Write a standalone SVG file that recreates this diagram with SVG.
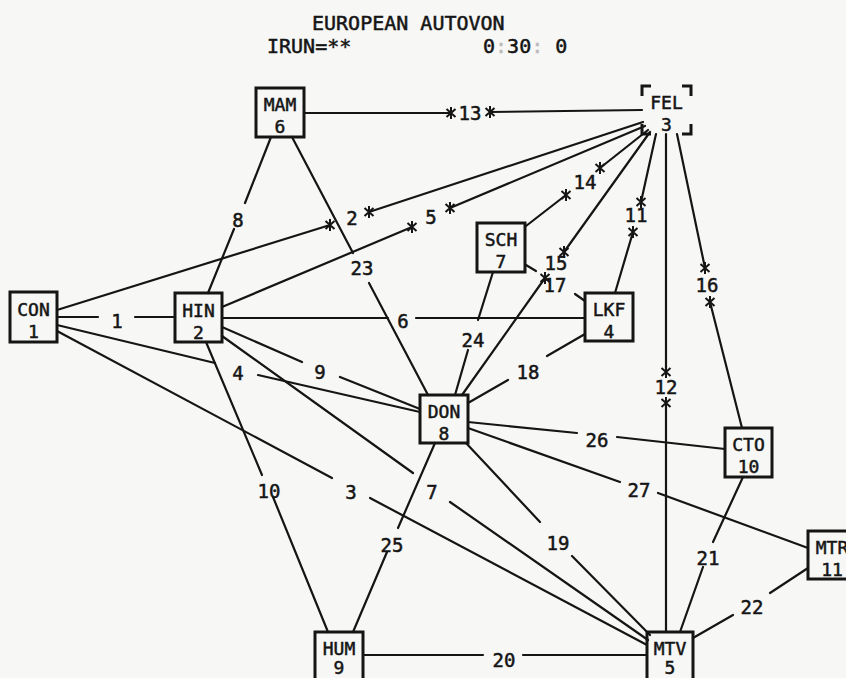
<svg xmlns="http://www.w3.org/2000/svg" width="846" height="678" viewBox="0 0 846 678">
<defs>
<style>
text{font-family:"DejaVu Sans Mono","Liberation Mono",monospace;font-size:19px;fill:#151515;stroke:#151515;stroke-width:0.5}
.n text{font-size:18px}
.n rect,.n path{fill:none;stroke:#151515;stroke-width:3}
.n text,.lb text{text-anchor:middle}
.c path{fill:none;stroke:#151515;stroke-width:2.2;stroke-linecap:round}
.st{fill:none;stroke:#151515;stroke-width:2}
.ti{font-size:20px}
.dim{fill:#bbb;stroke:#bbb}
</style>
<g id="star" class="st"><path d="M0,-6V6M-4.5,-4L4.5,4M4.5,-4L-4.5,4"/></g>
</defs>
<rect width="846" height="678" fill="#f7f7f5"/>
<g id="title" class="ti">
<text class="ti" x="312" y="30">EUROPEAN AUTOVON</text>
<text class="ti" x="267" y="53">IRUN=**</text>
<text class="ti" x="483" y="53">0<tspan class="dim">:</tspan>30<tspan class="dim">:</tspan> 0</text>
</g>
<g id="connectors" class="c">
<path d="M57,317H98M135,317H175"/>
<path d="M57,310L330,225M369,212L643,122"/>
<path d="M57,331L332,478M370,498L647,645"/>
<path d="M57,325L215,363M258,375L420,412"/>
<path d="M222,307L412,227M450,208L645,126"/>
<path d="M222,318H388M416,318H585"/>
<path d="M222,336L413,473M450,502L648,640"/>
<path d="M208,293L234,229M245,203L271,137"/>
<path d="M222,327L302,362M340,377L420,409"/>
<path d="M206,342L262,475M273,497L328,632"/>
<path d="M656,134L641,202M633,232L615,293"/>
<path d="M666,134V372M666,403V632"/>
<path d="M304,113H451M490,112L642,110"/>
<path d="M526,226L566,195M600,168L648,130"/>
<path d="M462,395L545,278M564,252L650,132"/>
<path d="M677,134L705,268M710,302L742,428"/>
<path d="M526,265L536,271M575,294L585,301"/>
<path d="M468,403L508,380M547,356L585,334"/>
<path d="M466,443L540,522M572,556L650,635"/>
<path d="M363,655H483M523,655H647"/>
<path d="M743,477L713,542M703,567L680,632"/>
<path d="M808,568L770,593M733,615L693,638"/>
<path d="M292,137L353,253M369,283L428,395"/>
<path d="M493,272L478,320M468,350L455,395"/>
<path d="M435,443L398,528M387,552L353,632"/>
<path d="M468,422L577,433M617,437L725,449"/>
<path d="M468,428L620,482M658,493L808,548"/>
<use href="#star" x="330" y="225"/><use href="#star" x="369" y="212"/>
<use href="#star" x="412" y="227"/><use href="#star" x="450" y="208"/>
<use href="#star" x="451" y="113"/><use href="#star" x="490" y="112"/>
<use href="#star" x="566" y="195"/><use href="#star" x="600" y="168"/>
<use href="#star" x="545" y="278"/><use href="#star" x="564" y="252"/>
<use href="#star" x="641" y="202"/><use href="#star" x="633" y="232"/>
<use href="#star" x="705" y="268"/><use href="#star" x="710" y="302"/>
<use href="#star" x="666" y="372"/><use href="#star" x="666" y="403"/>
</g>
<g id="labels" class="lb">
<text x="117" y="328">1</text>
<text x="352" y="225">2</text>
<text x="351" y="499">3</text>
<text x="238" y="380">4</text>
<text x="431" y="224">5</text>
<text x="403" y="328">6</text>
<text x="432" y="499">7</text>
<text x="238" y="227">8</text>
<text x="320" y="379">9</text>
<text x="269" y="498">10</text>
<text x="636" y="222">11</text>
<text x="666" y="394">12</text>
<text x="470" y="120">13</text>
<text x="585" y="189">14</text>
<text x="556" y="270">15</text>
<text x="555" y="292">17</text>
<text x="707" y="292">16</text>
<text x="528" y="379">18</text>
<text x="558" y="550">19</text>
<text x="504" y="667">20</text>
<text x="708" y="565">21</text>
<text x="752" y="614">22</text>
<text x="362" y="275">23</text>
<text x="473" y="347">24</text>
<text x="392" y="552">25</text>
<text x="597" y="447">26</text>
<text x="639" y="497">27</text>
</g>
<g id="CON" class="n"><rect x="10" y="292" width="47" height="50"/><text x="33.5" y="316">CON</text><text x="33.5" y="338">1</text></g>
<g id="HIN" class="n"><rect x="175" y="293" width="47" height="49"/><text x="198.5" y="317">HIN</text><text x="198.5" y="339">2</text></g>
<g id="FEL" class="n"><path d="M642,96V86H651M682,86H691V96M642,124V134H651M682,134H691V124"/><text x="666.5" y="109">FEL</text><text x="666.5" y="131">3</text></g>
<g id="LKF" class="n"><rect x="585" y="293" width="48" height="48"/><text x="609" y="316">LKF</text><text x="609" y="338">4</text></g>
<g id="MTV" class="n"><rect x="647" y="632" width="46" height="52"/><text x="670" y="655">MTV</text><text x="670" y="674">5</text></g>
<g id="MAM" class="n"><rect x="256" y="88" width="48" height="49"/><text x="280" y="111">MAM</text><text x="280" y="133">6</text></g>
<g id="SCH" class="n"><rect x="477" y="223" width="48" height="49"/><text x="501" y="246">SCH</text><text x="501" y="268">7</text></g>
<g id="DON" class="n"><rect x="420" y="395" width="48" height="48"/><text x="444" y="418">DON</text><text x="444" y="440">8</text></g>
<g id="HUM" class="n"><rect x="315" y="632" width="48" height="52"/><text x="339" y="655">HUM</text><text x="339" y="674">9</text></g>
<g id="CTO" class="n"><rect x="725" y="428" width="47" height="49"/><text x="748.5" y="451">CTO</text><text x="748.5" y="473">10</text></g>
<g id="MTR" class="n"><rect x="808" y="531" width="48" height="48"/><text x="832" y="554">MTR</text><text x="832" y="576">11</text></g>
</svg>
